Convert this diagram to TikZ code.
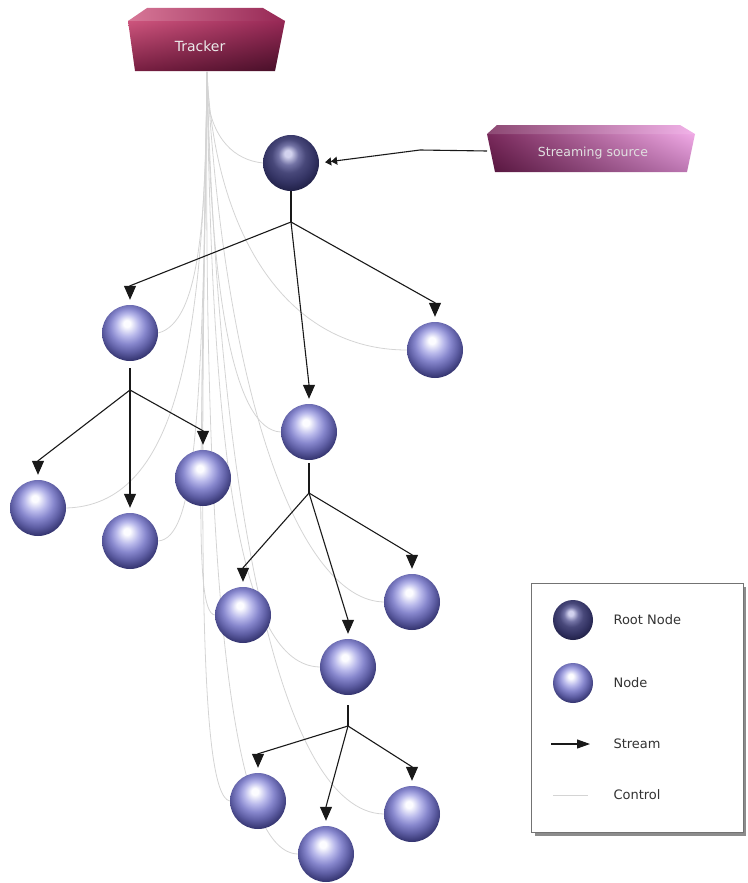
\documentclass[tikz,border=0pt]{standalone}
\usepackage{fontspec}
\setmainfont{DejaVu Sans}
\usetikzlibrary{arrows.meta,calc,backgrounds,shadings}
\definecolor{ctrlgray}{RGB}{212,212,212}
\definecolor{streamcol}{RGB}{25,25,25}
\definecolor{trkA}{RGB}{205,85,125}
\definecolor{trkB}{RGB}{150,40,85}
\definecolor{trkC}{RGB}{120,30,65}
\definecolor{trkD}{RGB}{70,15,40}
\definecolor{ssA}{RGB}{120,40,90}
\definecolor{ssB}{RGB}{240,170,230}
\definecolor{ssC}{RGB}{85,20,60}
\definecolor{ssD}{RGB}{190,120,180}
\definecolor{nsA}{RGB}{252,252,255}
\definecolor{nsB}{RGB}{185,185,235}
\definecolor{nsC}{RGB}{135,135,205}
\definecolor{nsD}{RGB}{95,95,165}
\definecolor{nsE}{RGB}{55,55,115}
\definecolor{nsF}{RGB}{30,30,70}
\definecolor{rsA}{RGB}{210,210,238}
\definecolor{rsB}{RGB}{115,115,165}
\definecolor{rsC}{RGB}{72,72,122}
\definecolor{rsD}{RGB}{52,52,100}
\definecolor{rsE}{RGB}{35,35,75}
\definecolor{rsF}{RGB}{20,20,45}
\pgfdeclareradialshading{nodesph}{\pgfqpoint{-3bp}{9bp}}{%
  color(0bp)=(nsA); color(3bp)=(nsA); color(10bp)=(nsB); color(16bp)=(nsC);
  color(22bp)=(nsD); color(28bp)=(nsE); color(34bp)=(nsF); color(50bp)=(nsF)}
\pgfdeclareradialshading{rootsph}{\pgfqpoint{-3bp}{9bp}}{%
  color(0bp)=(rsA); color(3bp)=(rsA); color(9bp)=(rsB); color(15bp)=(rsC);
  color(22bp)=(rsD); color(28bp)=(rsE); color(34bp)=(rsF); color(50bp)=(rsF)}
\begin{document}
\begin{tikzpicture}[x=1pt,y=-1pt,
  sph/.style={circle,minimum size=56pt,inner sep=0pt,shade,shading=nodesph},
  rootball/.style={circle,minimum size=56pt,inner sep=0pt,shade,shading=rootsph},
  lgsph/.style={circle,minimum size=40pt,inner sep=0pt,shade},
  stream/.style={draw=streamcol,line width=1.1pt},
  tip/.style={-{Triangle[length=14pt,width=12pt]},shorten >=5pt},
  ctrl/.style={draw=ctrlgray,line width=0.8pt},
  lbl/.style={font=\fontsize{13}{15}\selectfont,anchor=west,text=black!80}]
\useasboundingbox (0,0) rectangle (747,883);

% Tracker box
\shade[upper left=trkA,upper right=trkB,lower left=trkC,lower right=trkD]
  (128,21) -- (285,21) -- (275,71) -- (135,71) -- cycle;
\shade[left color=trkA!80!white,right color=trkB]
  (147,8) -- (263,8) -- (285,21) -- (128,21) -- cycle;
\node[text=white!92!black,font=\fontsize{14}{16}\selectfont] (trk) at (200,46) {Tracker};
\coordinate (tb) at (207,72);

% Streaming source box
\shade[upper left=ssA,upper right=ssB,lower left=ssC,lower right=ssD]
  (487,134) -- (695,134) -- (687,172) -- (495,172) -- cycle;
\shade[left color=ssA!85!white,right color=ssB!90!white]
  (497,125) -- (680,125) -- (695,134) -- (487,134) -- cycle;
\node[text=white!88!black,font=\fontsize{12.5}{15}\selectfont] (ss) at (593,153) {Streaming source};
\coordinate (ssw) at (487,151);

% Spheres
\node[rootball] (R) at (291,163) {};
\node[sph] (A) at (130,333) {};
\node[sph] (B) at (435,350) {};
\node[sph] (C) at (309,432) {};
\node[sph] (A1) at (38,508) {};
\node[sph] (A2) at (130,541) {};
\node[sph] (A3) at (203,478) {};
\node[sph] (C1) at (243,615) {};
\node[sph] (C2) at (348,667) {};
\node[sph] (C3) at (412,602) {};
\node[sph] (D1) at (258,801) {};
\node[sph] (D2) at (326,854) {};
\node[sph] (D3) at (412,814) {};

% Control lines
\begin{scope}[on background layer]
\draw[ctrl] (tb) -- (207,95) .. controls (212,140) and (235,160) .. (R.west);
\draw[ctrl] (tb) .. controls (206,220) and (200,322) .. (A.east);
\draw[ctrl] (tb) .. controls (215,240) and (290,350) .. (B.west);
\draw[ctrl] (tb) .. controls (210,300) and (235,430) .. (C.west);
\draw[ctrl] (tb) .. controls (205,350) and (175,505) .. (A1.east);
\draw[ctrl] (tb) .. controls (203,420) and (195,538) .. (A2.east);
\draw[ctrl] (tb) .. controls (204,300) and (200,400) .. (A3.north);
\draw[ctrl] (tb) .. controls (203,450) and (192,612) .. (C1.west);
\draw[ctrl] (tb) .. controls (200,520) and (198,795) .. (D1.west);
\draw[ctrl] (tb) .. controls (212,460) and (240,665) .. (C2.west);
\draw[ctrl] (tb) .. controls (225,400) and (300,600) .. (C3.west);
\draw[ctrl] (tb) .. controls (203,620) and (235,852) .. (D2.west);
\draw[ctrl] (tb) .. controls (218,500) and (280,812) .. (D3.west);
\end{scope}

% Stream
\draw[stream,-{Triangle[length=6pt,width=8pt]Triangle[length=6pt,width=8pt]},shorten >=6pt]
  (ssw) -- (420,150) -- (R.east);

\coordinate (f0) at (291,222);
\coordinate (fA) at (130,390);
\coordinate (fC) at (309,493);
\coordinate (fC2) at (348,726);
\draw[stream] (R.south) -- (f0);
\draw[stream] (A.south) ++(0,7) -- (fA);
\draw[stream] (C.south) ++(0,3) -- (fC);
\draw[stream] (C2.south) ++(0,10) -- (fC2);

\draw[stream,tip] (f0) -- ($(A.north)+(0,-19)$) -- (A.north);
\draw[stream,tip] (f0) -- ($(B.north)+(0,-19)$) -- (B.north);
\draw[stream,tip] (f0) -- ($(C.north)+(0,-19)$) -- (C.north);
\draw[stream,tip] (fA) -- ($(A1.north)+(0,-19)$) -- (A1.north);
\draw[stream,tip] (fA) -- ($(A2.north)+(0,-19)$) -- (A2.north);
\draw[stream,tip] (fA) -- ($(A3.north)+(0,-19)$) -- (A3.north);
\draw[stream,tip] (fC) -- ($(C1.north)+(0,-19)$) -- (C1.north);
\draw[stream,tip] (fC) -- ($(C2.north)+(0,-19)$) -- (C2.north);
\draw[stream,tip] (fC) -- ($(C3.north)+(0,-19)$) -- (C3.north);
\draw[stream,tip] (fC2) -- ($(D1.north)+(0,-19)$) -- (D1.north);
\draw[stream,tip] (fC2) -- ($(D2.north)+(0,-19)$) -- (D2.north);
\draw[stream,tip] (fC2) -- ($(D3.north)+(0,-19)$) -- (D3.north);

% Legend
\fill[black!45] (535,587) rectangle (746,836);
\draw[fill=white,draw=black!55,line width=0.9pt] (531,583) rectangle (743,832);
\node[lgsph,shading=rootsph] (lgR) at (573,620) {};
\node[lgsph,shading=nodesph] (lgN) at (573,683) {};
\node[lbl] (tR) at (610,620) {Root Node};
\node[lbl] (tN) at (610,683) {Node};
\coordinate (ls1) at (551,744);
\coordinate (ls2) at (590,744);
\draw[stream,-{Triangle[length=13pt,width=9pt]}] (ls1) -- (ls2);
\node[lbl] (tS) at (610,744) {Stream};
\coordinate (lc1) at (553,795);
\coordinate (lc2) at (588,795);
\draw[ctrl] (lc1) -- (lc2);
\node[lbl] (tC) at (610,795) {Control};
\end{tikzpicture}
\end{document}
